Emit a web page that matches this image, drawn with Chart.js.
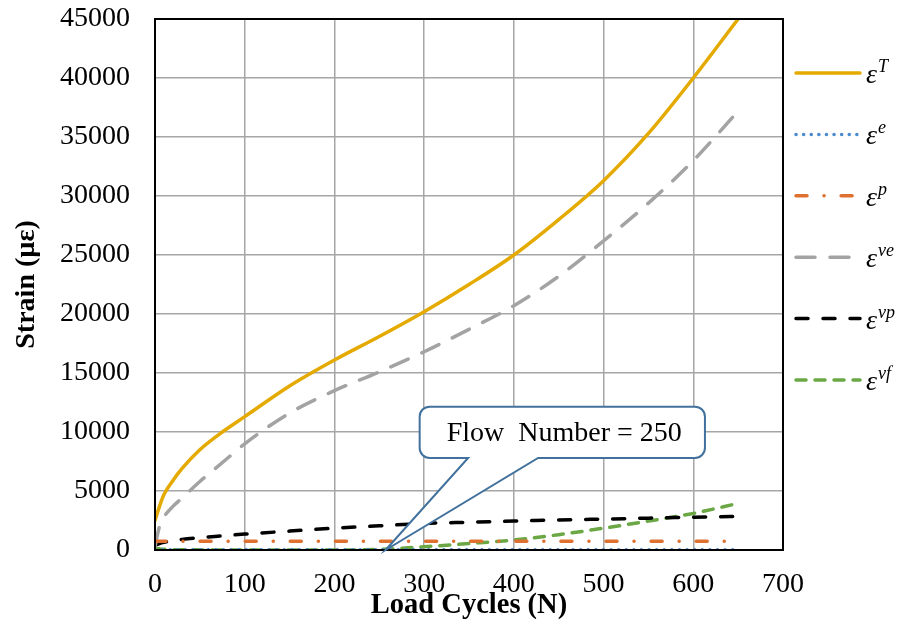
<!DOCTYPE html>
<html>
<head>
<meta charset="utf-8">
<script src="https://cdn.jsdelivr.net/npm/chart.js@4/dist/chart.umd.min.js"></script>
<style>
  body { margin: 0; background: #fff; }
  #wrap { width: 900px; height: 624px; }
</style>
</head>
<body>
<div id="wrap"><canvas id="myChart" width="900" height="624"></canvas></div>
<script>
var cycles = [0, 5, 10, 20, 30, 50, 75, 100, 150, 200, 250, 300, 350, 400, 450, 500, 550, 600, 650];

// strain components (micro-strain)
var strainTotal = [2500, 3700, 4700, 5900, 6900, 8500, 10000, 11300, 13900, 16100, 18100, 20200, 22500, 25000, 28000, 31300, 35300, 40000, 45000];
var strainElastic = [30, 30, 30, 30, 30, 30, 30, 30, 30, 30, 30, 30, 30, 30, 30, 30, 30, 30, 30];
var strainPlastic = [750, 750, 750, 750, 750, 750, 750, 750, 750, 750, 750, 750, 750, 750, 750, 750, 750, 750, 750];
var strainVE = [300, 2000, 2800, 3700, 4400, 5800, 7400, 9000, 11600, 13500, 15100, 16800, 18700, 20700, 23200, 26200, 29400, 33000, 37200];
var strainVP = [400, 550, 650, 800, 900, 1050, 1200, 1350, 1600, 1850, 2050, 2250, 2350, 2450, 2550, 2620, 2700, 2780, 2850];
var strainVF = [150, 100, 60, 30, 20, 10, 0, 0, 0, 0, 50, 280, 550, 850, 1300, 1850, 2450, 3100, 3950];

var xTicks = [0, 100, 200, 300, 400, 500, 600, 700];
var yTicks = [0, 5000, 10000, 15000, 20000, 25000, 30000, 35000, 40000, 45000];

var legendSup = ['T', 'e', 'p', 've', 'vp', 'vf'];
var flowNumber = 250;
var calloutText = 'Flow  Number = 250';

function toPoints(arr) {
    var pts = [];
    for (var i = 0; i < cycles.length; i++) {
        pts.push({x: cycles[i], y: arr[i]});
    }
    return pts;
}

var styles = [
    {color: '#E4AA00', dash: [], width: 3.5},
    {color: '#4A8BD0', dash: [0.1, 7.5], width: 3.5},
    {color: '#DE7030', dash: [11, 17, 0.1, 17], width: 3.5},
    {color: '#A3A3A3', dash: [19, 15], width: 3.5},
    {color: '#000000', dash: [12, 15], width: 3.5},
    {color: '#6BA845', dash: [10, 9], width: 3.5}
];
var series = [strainTotal, strainElastic, strainPlastic, strainVE, strainVP, strainVF];

var datasets = [];
for (var i = 0; i < series.length; i++) {
    datasets.push({
        label: 'eps ' + legendSup[i],
        data: toPoints(series[i]),
        borderColor: styles[i].color,
        borderDash: styles[i].dash,
        borderWidth: styles[i].width,
        borderCapStyle: 'round',
        pointRadius: 0,
        fill: false,
        cubicInterpolationMode: 'monotone'
    });
}

// frame, legend and callout drawn on top
var extras = {
    id: 'extras',
    afterDatasetsDraw: function(chart) {
        var ctx = chart.ctx;
        var a = chart.chartArea;
        var xs = chart.scales.x, ys = chart.scales.y;
        ctx.save();
        ctx.strokeStyle = '#000';
        ctx.lineWidth = 2;
        ctx.setLineDash([]);
        ctx.strokeRect(a.left, a.top, a.right - a.left, a.bottom - a.top);

        // callout box pointing at the flow number
        var bx0 = xs.getPixelForValue(295), bx1 = xs.getPixelForValue(613);
        var by0 = ys.getPixelForValue(12150), by1 = ys.getPixelForValue(7800);
        var p0 = xs.getPixelForValue(349), p1 = xs.getPixelForValue(427);
        var tipX = xs.getPixelForValue(flowNumber + 7), tipY = ys.getPixelForValue(0);
        var r = 10;
        ctx.beginPath();
        ctx.moveTo(bx0 + r, by0);
        ctx.lineTo(bx1 - r, by0);
        ctx.arcTo(bx1, by0, bx1, by0 + r, r);
        ctx.lineTo(bx1, by1 - r);
        ctx.arcTo(bx1, by1, bx1 - r, by1, r);
        ctx.lineTo(p1, by1);
        ctx.lineTo(tipX, tipY);
        ctx.lineTo(p0, by1);
        ctx.lineTo(bx0 + r, by1);
        ctx.arcTo(bx0, by1, bx0, by1 - r, r);
        ctx.lineTo(bx0, by0 + r);
        ctx.arcTo(bx0, by0, bx0 + r, by0, r);
        ctx.closePath();
        ctx.fillStyle = '#fff';
        ctx.fill();
        ctx.strokeStyle = '#41719C';
        ctx.lineWidth = 2;
        ctx.stroke();
        ctx.fillStyle = '#000';
        ctx.font = '28px "Liberation Serif"';
        ctx.textAlign = 'center';
        ctx.textBaseline = 'middle';
        ctx.fillText(calloutText, (bx0 + bx1) / 2 + 2, (by0 + by1) / 2 + 1);

        // legend
        ctx.textAlign = 'left';
        ctx.textBaseline = 'alphabetic';
        for (var i = 0; i < styles.length; i++) {
            var ly = 73 + i * 61.4;
            ctx.beginPath();
            ctx.setLineDash(styles[i].dash);
            ctx.strokeStyle = styles[i].color;
            ctx.lineWidth = styles[i].width;
            ctx.lineCap = 'round';
            ctx.moveTo(796, ly);
            ctx.lineTo(860, ly);
            ctx.stroke();
            ctx.setLineDash([]);
            ctx.fillStyle = '#000';
            ctx.font = 'italic 28px "Liberation Serif"';
            ctx.fillText('\u03B5', 866, ly + 10);
            var w = ctx.measureText('\u03B5').width;
            ctx.font = 'italic 18px "Liberation Serif"';
            ctx.fillText(legendSup[i], 866 + w + 1, ly - 1);
        }
        ctx.restore();
    }
};

var ctx = document.getElementById('myChart');
var myChart = new Chart(ctx, {
    type: 'line',
    data: {datasets: datasets},
    options: {
        responsive: false,
        animation: false,
        layout: {padding: {left: 0, right: 117, top: 19, bottom: 0}},
        plugins: {legend: {display: false}, tooltip: {enabled: false}},
        scales: {
            x: {
                type: 'linear',
                min: 0, max: 700,
                afterBuildTicks: function(scale) {
                    scale.ticks = xTicks.map(function(v) { return {value: v}; });
                },
                afterFit: function(scale) {
                    scale.height = 74;
                    scale.paddingLeft = 0;
                    scale.paddingRight = 0;
                },
                grid: {color: '#A6A6A6', lineWidth: 1.5, drawTicks: false},
                border: {display: false},
                ticks: {color: '#000', padding: 18, maxRotation: 0,
                        callback: function(v) { return String(v); },
                        font: {family: 'Liberation Serif', size: 28}},
                title: {display: true, text: 'Load Cycles (N)', color: '#000',
                        padding: {top: 0, bottom: 1},
                        font: {family: 'Liberation Serif', size: 28.5, weight: 'bold'}}
            },
            y: {
                min: 0, max: 45000,
                afterBuildTicks: function(scale) {
                    scale.ticks = yTicks.map(function(v) { return {value: v}; });
                },
                afterFit: function(scale) {
                    scale.width = 155;
                    scale.paddingTop = 0;
                    scale.paddingBottom = 0;
                },
                grid: {color: '#A6A6A6', lineWidth: 1.5, drawTicks: false},
                border: {display: false},
                ticks: {color: '#000', padding: 25,
                        callback: function(v) { return String(v); },
                        font: {family: 'Liberation Serif', size: 28}},
                title: {display: true, text: 'Strain (\u00B5\u03B5)', color: '#000',
                        padding: {top: 10, bottom: 0},
                        font: {family: 'Liberation Serif', size: 28, weight: 'bold'}}
            }
        }
    },
    plugins: [extras]
});
</script>
</body>
</html>
